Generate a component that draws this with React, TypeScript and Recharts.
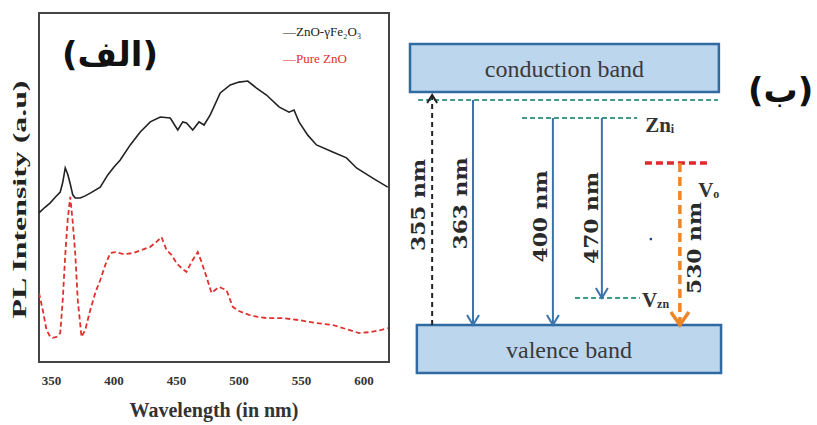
import React from "react";
import {
  ComposedChart,
  Line,
  Scatter,
  XAxis,
  YAxis,
  ReferenceArea,
  ReferenceLine,
  Label,
  Legend,
} from "recharts";

// ---- PL spectra, arbitrary units ----
const hybridNm = [340, 345, 349, 353, 357, 359, 361, 363, 365, 367, 369, 373, 377, 381, 389, 395, 400, 405, 413, 421, 429, 437, 445, 451, 455, 458, 463, 468, 472, 477, 485, 493, 500, 507, 514, 522, 532, 540, 544, 548, 555, 562, 575, 586, 594, 607, 619];
const hybridPL = [42.7, 44.4, 45.6, 47.2, 48.7, 51.5, 55.6, 53.8, 51.0, 47.9, 47.0, 47.0, 47.6, 48.4, 50.1, 53.6, 55.9, 57.9, 62.2, 65.9, 68.8, 70.2, 69.9, 66.5, 68.8, 68.5, 66.5, 68.8, 67.9, 70.8, 77.1, 79.4, 80.2, 80.5, 78.5, 76.5, 73.1, 71.6, 72.2, 68.8, 65.0, 62.2, 60.2, 58.5, 55.6, 52.7, 50.1];

const pureNm = [340, 343, 346, 349, 351, 354, 357, 359, 361, 363, 365, 367, 369, 371, 374, 377, 381, 385, 389, 393, 397, 401, 408, 415, 422, 429, 434, 438, 442, 446, 450, 454, 458, 462, 467, 470, 474, 478, 484, 490, 495, 500, 508, 515, 522, 535, 548, 561, 575, 588, 596, 606, 614, 619];
const purePL = [19.8, 14.9, 9.2, 7.2, 6.9, 7.2, 8.3, 17.8, 30.7, 41.0, 47.3, 40.0, 31.0, 17.8, 7.2, 9.2, 14.9, 19.8, 23.5, 27.8, 31.2, 31.5, 30.9, 31.2, 32.1, 33.0, 34.4, 35.8, 32.1, 30.7, 28.4, 26.9, 25.8, 28.7, 31.5, 28.7, 24.4, 19.8, 21.5, 20.6, 15.8, 14.6, 13.5, 12.9, 12.6, 12.6, 12.0, 11.2, 10.6, 9.2, 8.3, 8.6, 9.2, 9.7];

const wavelengthTicks = [350, 400, 450, 500, 550, 600];
const seriesNames = ["ZnO-γFe₂O₃", "Pure ZnO"];
const seriesColors = ["#222", "#e0312f"];

// ---- energy-level scheme (schematic energy scale, 0..100) ----
const bandNames = ["conduction band", "valence band"];
const bandLow = [85.4, 0];
const bandHigh = [100, 14.6];

const levelSymbol = ["", "Zn", "V", "V"];
const levelSub = ["", "i", "o", "zn"];
const levelEnergy = [83.0, 77.5, 63.8, 22.8];

const transitionNm = [355, 363, 400, 470, 530];
const transitionStart = [14.6, 83.0, 77.5, 77.5, 63.8];
const transitionEnd = [84.5, 14.6, 14.6, 22.8, 14.6];

const strayDot = [{ x: 77.2, y: 40.7 }];

// ---- layout / styling of the scheme ----
const bandX = [[0, 99], [2.2, 99.7]];
const levelX = [[2.6, 98.7], [35.9, 72.8], [75.3, 96.2], [52.9, 73.7]];
const levelColor = ["#3f9a8c", "#3f9a8c", "#e3262b", "#3f9a8c"];
const levelDash = ["5 3", "5 3", "7 4", "5 3"];
const levelWidth = [2, 2, 3.5, 2];
const levelLabelDx = [0, 8, -12, 2];
const levelLabelDy = [0, 7, 27, 2];

const transitionX = [7.1, 20.2, 45.8, 61.5, 86.5];
const transitionColor = ["#222", "#3b73ad", "#3b73ad", "#3b73ad", "#ee8526"];
const transitionDash = ["5 4", undefined, undefined, undefined, "9 5"];
const transitionWidth = [2, 2, 2, 2, 3.5];
const headW = [5, 6, 6, 6, 9];
const headL = [8, 10, 10, 10, 13];
const labelDx = [-14, -13, -12, -10, 15];
const labelDy = [-5, -9, -5, 10, 4];

const hybridData = hybridNm.map((nm, i) => ({ nm, pl: hybridPL[i] }));
const pureData = pureNm.map((nm, i) => ({ nm, pl: purePL[i] }));

const SERIF = "Liberation Serif, serif";

const arrowShape = (i: number) => (p: any) => {
  const { x1, y1, x2, y2 } = p;
  const dir = y2 > y1 ? 1 : -1;
  const c = transitionColor[i];
  const w = transitionWidth[i];
  const lx = x1 + labelDx[i];
  const ly = (y1 + y2) / 2 + labelDy[i];
  return (
    <g>
      <line x1={x1} y1={y1} x2={x2} y2={y2 - dir * 2} stroke={c} strokeWidth={w} strokeDasharray={transitionDash[i]} />
      <polyline
        points={`${x2 - headW[i]},${y2 - dir * headL[i]} ${x2},${y2} ${x2 + headW[i]},${y2 - dir * headL[i]}`}
        fill="none"
        stroke={c}
        strokeWidth={w}
      />
      <text
        x={lx}
        y={ly}
        transform={`rotate(-90 ${lx} ${ly})`}
        textAnchor="middle"
        dominantBaseline="central"
        fontFamily="DejaVu Serif, serif"
        fontWeight="bold"
        fontSize={18}
        fill="#2a2a2a"
        textLength={92}
        lengthAdjust="spacingAndGlyphs"
      >
        {`${transitionNm[i]} nm`}
      </text>
    </g>
  );
};

const levelShape = (i: number) => (p: any) => {
  const { x1, y1, x2, y2 } = p;
  return (
    <g>
      <line x1={x1} y1={y1} x2={x2} y2={y2} stroke={levelColor[i]} strokeWidth={levelWidth[i]} strokeDasharray={levelDash[i]} />
      {levelSymbol[i] && (
        <text
          x={x2 + levelLabelDx[i]}
          y={y2 + levelLabelDy[i]}
          dominantBaseline="central"
          fontFamily={SERIF}
          fontWeight="bold"
          fontSize={21}
          fill="#333"
        >
          {levelSymbol[i]}
          <tspan fontSize={12} dy={4}>
            {levelSub[i]}
          </tspan>
        </text>
      )}
    </g>
  );
};

// legend keeps the series order of seriesNames
const SpectrumLegend = () => (
  <div style={{ fontFamily: SERIF, fontSize: 13 }}>
    {seriesNames.map((name, i) => (
      <div key={name} style={{ color: seriesColors[i], height: 27, lineHeight: "18px", whiteSpace: "nowrap" }}>
        {"—" + name}
      </div>
    ))}
  </div>
);

function Spectrum() {
  return (
    <ComposedChart width={400} height={425} margin={{ top: 13, right: 11, bottom: 33, left: 0 }}>
      <XAxis
        type="number"
        dataKey="nm"
        domain={[340, 620]}
        ticks={wavelengthTicks}
        allowDataOverflow
        height={30}
        axisLine={false}
        tickLine={false}
        tickMargin={8}
        tick={{ fontFamily: SERIF, fontWeight: "bold", fontSize: 13, fill: "#333" }}
      >
        <Label
          content={({ viewBox }: any) => (
            <text
              x={viewBox.x + viewBox.width / 2}
              y={viewBox.y + 55}
              textAnchor="middle"
              fontFamily={SERIF}
              fontWeight="bold"
              fontSize={20}
              fill="#333"
            >
              Wavelength (in nm)
            </text>
          )}
        />
      </XAxis>
      <YAxis type="number" domain={[0, 100]} width={39} tick={false} axisLine={false} tickLine={false}>
        <Label
          content={({ viewBox }: any) => {
            const cx = viewBox.x + 20;
            const cy = viewBox.y + viewBox.height / 2 + 12;
            return (
              <text
                x={cx}
                y={cy}
                transform={`rotate(-90 ${cx} ${cy})`}
                textAnchor="middle"
                dominantBaseline="central"
                fontFamily={SERIF}
                fontWeight="bold"
                fontSize={18}
                fill="#222"
                textLength={238}
                lengthAdjust="spacingAndGlyphs"
              >
                PL Intensity (a.u)
              </text>
            );
          }}
        />
      </YAxis>
      <Legend
        layout="vertical"
        align="center"
        verticalAlign="middle"
        content={<SpectrumLegend />}
        wrapperStyle={{ left: 283, top: 23, width: 110 }}
      />
      <Line
        data={hybridData}
        dataKey="pl"
        name={seriesNames[0]}
        stroke={seriesColors[0]}
        strokeWidth={1.6}
        dot={false}
        type="linear"
        isAnimationActive={false}
      />
      <Line
        data={pureData}
        dataKey="pl"
        name={seriesNames[1]}
        stroke={seriesColors[1]}
        strokeWidth={1.8}
        strokeDasharray="5 3"
        dot={false}
        type="linear"
        isAnimationActive={false}
      />
      <ReferenceArea x1={340} x2={620} y1={0} y2={100} fill="none" stroke="#444" strokeWidth={2} ifOverflow="visible" />
    </ComposedChart>
  );
}

function LevelScheme() {
  return (
    <ComposedChart width={417} height={425} margin={{ top: 44, right: 95, bottom: 52, left: 10 }}>
      <XAxis type="number" dataKey="x" domain={[0, 100]} hide allowDataOverflow />
      <YAxis type="number" dataKey="y" domain={[0, 100]} hide allowDataOverflow />
      {bandNames.map((name, i) => (
        <ReferenceArea
          key={name}
          x1={bandX[i][0]}
          x2={bandX[i][1]}
          y1={bandLow[i]}
          y2={bandHigh[i]}
          fill="#bcd6ee"
          fillOpacity={1}
          stroke="#2f6aa0"
          strokeWidth={2.5}
          ifOverflow="visible"
        >
          <Label value={name} position="center" fontFamily={SERIF} fontSize={24} fill="#3a3a3a" />
        </ReferenceArea>
      ))}
      {levelEnergy.map((e, i) => (
        <ReferenceLine
          key={"lvl" + i}
          segment={[
            { x: levelX[i][0], y: e },
            { x: levelX[i][1], y: e },
          ]}
          ifOverflow="visible"
          shape={levelShape(i)}
        />
      ))}
      {transitionNm.map((nm, i) => (
        <ReferenceLine
          key={"tr" + nm}
          segment={[
            { x: transitionX[i], y: transitionStart[i] },
            { x: transitionX[i], y: transitionEnd[i] },
          ]}
          ifOverflow="visible"
          shape={arrowShape(i)}
        />
      ))}
      <Scatter
        data={strayDot}
        fill="#1f3b8a"
        shape={(p: any) => <circle cx={p.cx} cy={p.cy} r={1.3} fill="#1f3b8a" />}
        isAnimationActive={false}
      />
    </ComposedChart>
  );
}

export default function App() {
  return (
    <div style={{ position: "absolute", left: 0, top: 0, width: 817, height: 425, background: "#fff", overflow: "hidden" }}>
      <div style={{ position: "absolute", left: 0, top: 0 }}>
        <Spectrum />
      </div>
      <div style={{ position: "absolute", left: 400, top: 0 }}>
        <LevelScheme />
      </div>
      <div
        dir="rtl"
        style={{ position: "absolute", left: 62, top: 34, fontFamily: "DejaVu Sans, sans-serif", fontWeight: "bold", fontSize: 34, color: "#111" }}
      >
        (الف)
      </div>
      <div
        dir="rtl"
        style={{ position: "absolute", left: 748, top: 70, fontFamily: "DejaVu Sans, sans-serif", fontWeight: "bold", fontSize: 34, color: "#111" }}
      >
        (ب)
      </div>
    </div>
  );
}
